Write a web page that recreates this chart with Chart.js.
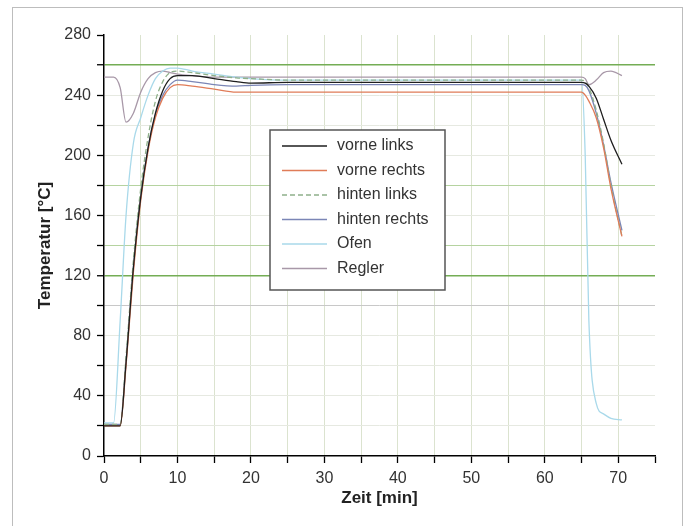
<!DOCTYPE html>
<html>
<head>
<meta charset="utf-8">
<script src="https://cdn.jsdelivr.net/npm/chart.js@4/dist/chart.umd.min.js"></script>
<style>
  body { margin: 0; background: #fff; }
  canvas { display: block; }
</style>
</head>
<body>
<canvas id="myChart" width="690" height="526"></canvas>
<script>
// Zeitpunkte [min] (gemeinsam für alle Kurven)
const zeit = [0, 1.3, 2.2, 3, 4, 5, 6, 7, 8, 9, 10, 12, 15, 18, 20, 25, 30, 40, 50, 60, 65, 65.5, 66, 67, 68, 69, 70.5];

// Temperaturen [°C]
const vorneLinks   = [20, 20, 20, 62, 125, 172, 205, 228, 243, 251, 253, 253, 251, 249, 248, 248.5, 248.5, 248.5, 248.5, 248.5, 248.5, 248, 246, 238, 224, 210, 194];
const vorneRechts  = [20, 20, 20, 60, 122, 170, 203, 225, 238, 245, 247, 246, 244, 242, 242, 242, 242, 242, 242, 242, 242, 240, 236, 225, 205, 178, 146];
const hintenLinks  = [21, 21, 21, 66, 130, 178, 212, 236, 249, 255, 256, 255, 253, 251.5, 251, 250, 250, 250, 250, 250, 250, 249, 245, 230, 208, 180, 146];
const hintenRechts = [21, 21, 21, 63, 126, 173, 205, 227, 240, 247, 250, 249, 247, 246, 246.5, 247, 247, 247, 247, 247, 247, 246.5, 243, 228, 207, 182, 150];
const ofen         = [22, 22, 90, 160, 208, 225, 240, 251, 256, 258, 258, 256, 254, 252, 251, 250, 250, 250, 250, 250, 250, 200, 90, 35, 28, 25, 24];
const regler       = [252, 252, 245, 222, 228, 242, 251, 255, 256, 255, 254, 253, 252, 252, 252, 252, 252, 252, 252, 252, 252, 251, 247, 250, 255, 256, 253];

const serienNamen = ['vorne links', 'vorne rechts', 'hinten links', 'hinten rechts', 'Ofen', 'Regler'];
const serienFarben = ['#1e1e1e', '#e07c58', '#8fb08a', '#7b86b6', '#a9d9ea', '#a898a8'];
const serienWerte = [vorneLinks, vorneRechts, hintenLinks, hintenRechts, ofen, regler];

const xTicks = [0, 10, 20, 30, 40, 50, 60, 70];
const yTicks = [0, 40, 80, 120, 160, 200, 240, 280];

function punkte(werte) {
  return zeit.map((t, i) => ({ x: t, y: werte[i] }));
}

const datasets = serienWerte.map((werte, i) => ({
  label: serienNamen[i],
  data: punkte(werte),
  borderColor: serienFarben[i],
  borderWidth: 1.3,
  borderDash: i === 2 ? [5, 3] : [],
  pointRadius: 0,
  fill: false,
  cubicInterpolationMode: 'monotone'
}));

// Legende im Diagramm + Rahmen
const legendeBox = {
  id: 'legendeBox',
  afterDraw(chart) {
    const ctx = chart.ctx;
    ctx.save();
    // äußerer Rahmen
    ctx.strokeStyle = '#bdbdbd';
    ctx.lineWidth = 1;
    ctx.strokeRect(12.5, 7.5, 670, 540);

    const x0 = 270, y0 = 130, w = 175, h = 160;
    ctx.fillStyle = '#fff';
    ctx.fillRect(x0, y0, w, h);
    ctx.strokeStyle = '#555';
    ctx.lineWidth = 1.5;
    ctx.strokeRect(x0, y0, w, h);
    ctx.font = '16px Arial, "Liberation Sans", sans-serif';
    ctx.textBaseline = 'middle';
    chart.data.datasets.forEach((ds, i) => {
      const y = y0 + 16 + i * 24.5;
      ctx.strokeStyle = ds.borderColor;
      ctx.lineWidth = 1.3;
      ctx.setLineDash(ds.borderDash || []);
      ctx.beginPath();
      ctx.moveTo(x0 + 12, y);
      ctx.lineTo(x0 + 57, y);
      ctx.stroke();
      ctx.setLineDash([]);
      ctx.fillStyle = '#333';
      ctx.fillText(ds.label, x0 + 67, y);
    });
    ctx.restore();
  }
};

function yGridFarbe(v) {
  if (v === 260 || v === 120) return '#74ad55';
  if (v === 140 || v === 180) return '#b5d3a0';
  if (v === 100) return '#c8c8c8';
  if (v === 0 || v === 280) return 'rgba(0,0,0,0)';
  return '#e6e9e1';
}

const chart = new Chart(document.getElementById('myChart'), {
  type: 'line',
  data: { datasets: datasets },
  options: {
    responsive: false,
    animation: false,
    layout: { padding: { left: 31, top: 35, right: 35, bottom: 13 } },
    plugins: {
      legend: { display: false },
      tooltip: { enabled: false }
    },
    scales: {
      x: {
        type: 'linear',
        min: 0,
        max: 75,
        afterFit: s => { s.height = 57; },
        afterBuildTicks: s => {
          const t = [];
          for (let v = 0; v <= 75; v += 5) t.push({ value: v });
          s.ticks = t;
        },
        ticks: {
          autoSkip: false,
          maxRotation: 0,
          padding: 6,
          color: '#333',
          font: { size: 16, family: 'Arial, "Liberation Sans", sans-serif' },
          callback: v => (xTicks.includes(v) ? v : '')
        },
        grid: {
          color: c => (c.tick && (c.tick.value === 0 || c.tick.value === 75) ? 'rgba(0,0,0,0)' : '#dbe3cf'),
          lineWidth: 1,
          tickColor: '#000',
          tickLength: 7,
          tickWidth: 1.3
        },
        border: { display: true, color: '#000', width: 1.5 },
        title: {
          display: true,
          text: 'Zeit [min]',
          color: '#222',
          font: { size: 17, weight: 'bold', family: 'Arial, "Liberation Sans", sans-serif' }
        }
      },
      y: {
        min: 0,
        max: 280,
        afterFit: s => { s.width = 73; },
        ticks: {
          stepSize: 20,
          padding: 6,
          color: '#333',
          font: { size: 16, family: 'Arial, "Liberation Sans", sans-serif' },
          callback: v => (yTicks.includes(v) ? v : '')
        },
        grid: {
          color: c => yGridFarbe(c.tick ? c.tick.value : -1),
          lineWidth: c => (c.tick && (c.tick.value === 260 || c.tick.value === 120) ? 1.5 : 1),
          tickColor: '#000',
          tickLength: 7,
          tickWidth: 1.3
        },
        border: { display: true, color: '#000', width: 1.5 },
        title: {
          display: true,
          text: 'Temperatur [°C]',
          color: '#222',
          font: { size: 17, weight: 'bold', family: 'Arial, "Liberation Sans", sans-serif' }
        }
      }
    }
  },
  plugins: [legendeBox]
});
</script>
</body>
</html>
